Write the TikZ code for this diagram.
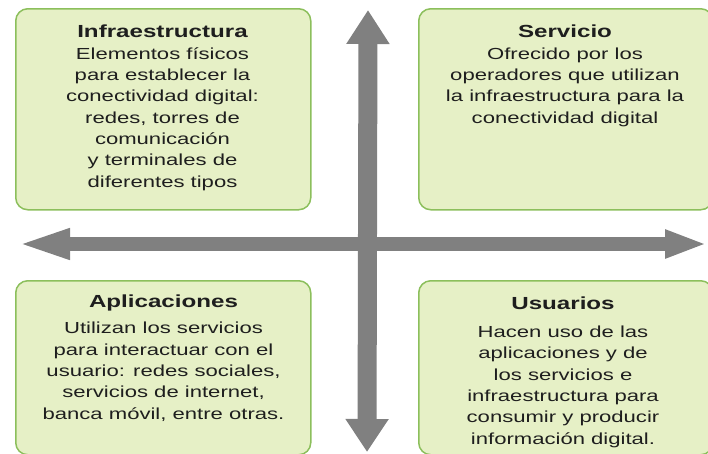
\documentclass[tikz,border=0pt]{standalone}
\usepackage{fontspec}
\setmainfont{Liberation Sans}[FakeStretch=1.38]
\usetikzlibrary{arrows.meta}
\definecolor{boxfill}{HTML}{E6F0C6}
\definecolor{boxline}{HTML}{8CBF5C}
\definecolor{arrowgray}{HTML}{808080}
\definecolor{txt}{HTML}{1E1E1E}
\begin{document}
\begin{tikzpicture}[x=1pt,y=-1pt,
  panel/.style={draw=boxline, fill=boxfill, line width=1.5pt, rounded corners=12pt, anchor=north west, inner sep=0pt},
  ttl/.style={font=\fontsize{17.5}{21}\selectfont\bfseries, text=txt, inner sep=0pt, anchor=base},
  body/.style={font=\fontsize{16}{21.3}\selectfont, text=txt, align=center, inner sep=0pt, anchor=base},
  axis/.style={draw=arrowgray, line width=#1}]
\path[use as bounding box] (0,0) rectangle (708,453);
\clip (0,0) rectangle (708,453);

% panels
\node[panel, minimum width=295pt, minimum height=201pt] (infra) at (15,8) {};
\node[panel, minimum width=294pt, minimum height=201pt] (serv) at (418,8) {};
\node[panel, minimum width=295pt, minimum height=174pt] (apl) at (15,280) {};
\node[panel, minimum width=294pt, minimum height=174pt] (usu) at (418,280) {};

% texts (body nodes are placed by the baseline of their last line)
\node[ttl] (t1) at (162.5,37) {Infraestructura};
\node[body] (b1) at (162.5,187) {Elementos físicos\\para establecer la\\conectividad digital:\\redes, torres de\\comunicación\\y terminales de\\diferentes tipos};

\node[ttl] (t2) at (565,37) {Servicio};
\node[body] (b2) at (565,123) {Ofrecido por los\\operadores que utilizan\\la infraestructura para la\\conectividad digital};

\node[ttl] (t3) at (163.5,307) {Aplicaciones};
\node[body] (b3) at (163.5,419) {Utilizan los servicios\\para interactuar con el\\usuario: redes sociales,\\servicios de internet,\\banca móvil, entre otras.};

\node[ttl] (t4) at (563,309) {Usuarios};
\node[body] (b4) at (563,444) {Hacen uso de las\\aplicaciones y de\\los servicios e\\infraestructura para\\consumir y producir\\información digital.};

% axes
\coordinate (hl) at (15,244);
\coordinate (hr) at (707,244);
\coordinate (vt) at (368,10);
\coordinate (vb) at (367,452);
\draw[axis=14pt, {Triangle[length=55pt,width=27pt]}-{Triangle[length=42pt,width=26pt]}, arrowgray] (hl) -- (hr);
\draw[axis=19pt, {Triangle[length=34pt,width=41pt]}-{Triangle[length=33pt,width=41pt]}, arrowgray] (vt) -- (vb);
\end{tikzpicture}
\end{document}
